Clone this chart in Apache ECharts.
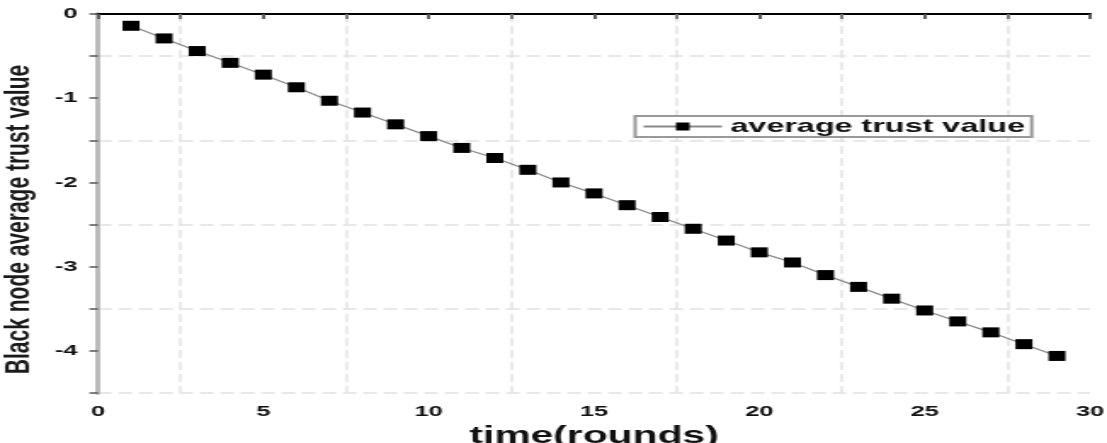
<!DOCTYPE html>
<html>
<head>
    <meta charset="utf-8">
    <title>Black node average trust value</title>
    <script src="https://cdn.jsdelivr.net/npm/echarts@6/dist/echarts.min.js"></script>
    <style>
        html, body { margin: 0; padding: 0; overflow: hidden; background: #fff; }
        /* the source picture is stretched sideways, so draw narrow and stretch */
        #container { width: 651px; height: 443px; transform: scaleX(1.7005); transform-origin: 0 0; }
    </style>
</head>
<body>
<div id="container"></div>
<script>
    var rounds = [1, 2, 3, 4, 5, 6, 7, 8, 9, 10, 11, 12, 13, 14, 15, 16, 17, 18, 19, 20, 21, 22, 23, 24, 25, 26, 27, 28, 29];
    var trustValues = [-0.14, -0.29, -0.44, -0.58, -0.72, -0.87, -1.03, -1.17, -1.31, -1.45,
        -1.59, -1.71, -1.85, -2.00, -2.13, -2.27, -2.41, -2.55, -2.69, -2.83,
        -2.95, -3.10, -3.24, -3.38, -3.52, -3.65, -3.78, -3.92, -4.06];
    var seriesName = 'average trust value';

    var points = [];
    for (var i = 0; i < rounds.length; i++) {
        points.push([rounds[i], trustValues[i]]);
    }

    var labelFont = {color: '#111', fontSize: 15, fontWeight: 'bold', fontFamily: 'Liberation Sans'};

    var myChart = echarts.init(document.getElementById('container'));

    var option = {
        animation: false,
        grid: {left: 57.6, right: 10, top: 14, bottom: 50, outerBoundsMode: 'none', containLabel: false},
        legend: {
            left: 373.5,
            top: 116,
            orient: 'horizontal',
            padding: [1, 4, 1, 4],
            itemWidth: 46,
            itemHeight: 10,
            borderColor: '#999',
            borderWidth: 2,
            backgroundColor: '#fff',
            textStyle: {color: '#111', fontSize: 19, fontWeight: 'bold', fontFamily: 'Liberation Sans', lineHeight: 19},
            data: [seriesName]
        },
        xAxis: [{
            type: 'value',
            position: 'bottom',
            min: 0,
            max: 30,
            interval: 5,
            name: 'time(rounds)',
            nameLocation: 'middle',
            nameGap: 27,
            nameTextStyle: {color: '#111', fontSize: 24, fontWeight: 'bold', fontFamily: 'Liberation Sans', verticalAlign: 'top'},
            axisLine: {show: true, lineStyle: {color: '#777', width: 2}},
            axisTick: {show: true, inside: false, length: 5, lineStyle: {color: '#555', width: 1.5}},
            minorTick: {show: true, splitNumber: 2, length: 5, lineStyle: {color: '#777', width: 1.5}},
            axisLabel: Object.assign({margin: 11}, labelFont),
            splitLine: {show: false},
            minorSplitLine: {show: true, lineStyle: {color: '#e4e4e4', width: 1.5, type: [8, 4]}}
        }, {
            type: 'value',
            position: 'top',
            min: 0,
            max: 30,
            interval: 5,
            axisLine: {show: true, lineStyle: {color: '#000', width: 2}},
            axisTick: {show: true, inside: true, length: 5, lineStyle: {color: '#555', width: 1.5}},
            minorTick: {show: true, splitNumber: 2, length: 5, lineStyle: {color: '#777', width: 1.5}},
            axisLabel: {show: false},
            splitLine: {show: false}
        }],
        yAxis: [{
            type: 'value',
            position: 'left',
            min: -4.5,
            max: 0,
            interval: 0.5,
            name: 'Black node average trust value',
            nameLocation: 'middle',
            nameGap: 32,
            nameTextStyle: {
                color: '#1a1a1a', fontSize: 21, fontWeight: 'bold',
                fontFamily: 'Liberation Sans',
                padding: [0, 32, 0, 0]
            },
            axisLine: {show: true, lineStyle: {color: '#7a7a7a', width: 3}},
            axisTick: {show: true, inside: false, length: 5, lineStyle: {color: '#555', width: 1.5}},
            axisLabel: Object.assign({
                margin: 12,
                formatter: function (v) {
                    return Math.round(v) === v ? String(v) : '';
                }
            }, labelFont),
            splitLine: {show: true, lineStyle: {color: ['#e8e8e8', 'rgba(0,0,0,0)'], width: 2, type: [8, 4]}}
        }, {
            type: 'value',
            position: 'right',
            min: -4.5,
            max: 0,
            interval: 0.5,
            axisLine: {show: true, lineStyle: {color: '#bbb', width: 3}},
            axisTick: {show: true, inside: true, length: 5, lineStyle: {color: '#555', width: 1.5}},
            axisLabel: {show: false},
            splitLine: {show: false}
        }],
        series: [{
            name: seriesName,
            type: 'line',
            xAxisIndex: 0,
            yAxisIndex: 0,
            data: points,
            symbol: 'rect',
            symbolSize: [10, 10],
            showAllSymbol: true,
            itemStyle: {color: '#000'},
            lineStyle: {color: '#888', width: 1.2},
            z: 5
        }]
    };

    myChart.setOption(option);
</script>
</body>
</html>
